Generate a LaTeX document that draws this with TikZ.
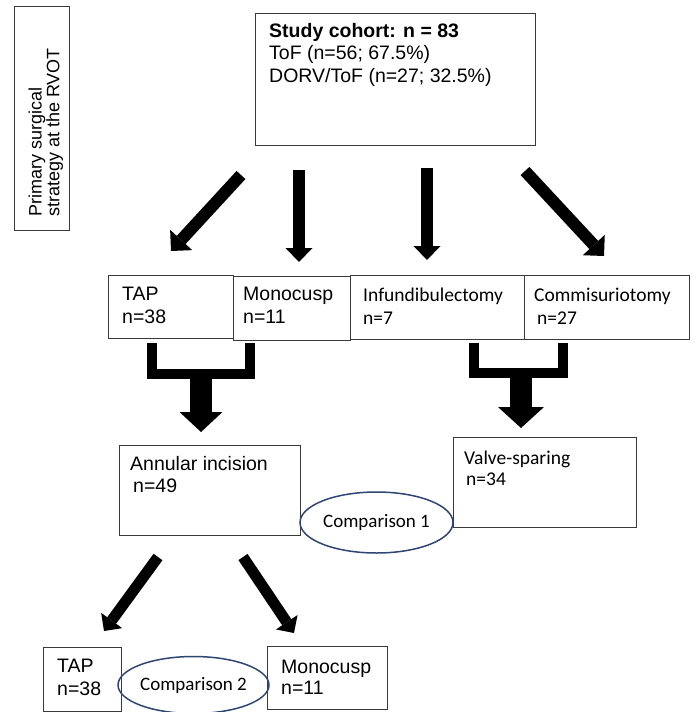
\documentclass[tikz,border=0pt]{standalone}
\usepackage{fontspec}
\setmainfont{Liberation Sans}
\newfontfamily\calfont{Carlito}
\usetikzlibrary{arrows.meta,shapes.geometric}
\definecolor{boxline}{HTML}{3A3A3A}
\definecolor{ellline}{HTML}{2E4672}
\tikzset{
  box/.style={draw=boxline, line width=1.3pt, rectangle, inner sep=0pt, anchor=north west},
  txt/.style={anchor=base west, align=left, inner sep=0pt, font=\fontsize{19.5}{23}\selectfont},
  ctxt/.style={txt, font=\calfont\fontsize{19.5}{23}\selectfont},
  cmp/.style={draw=ellline, line width=1.5pt, ellipse, inner sep=0pt, font=\calfont\fontsize{19}{22}\selectfont},
  blk/.style n args={3}{line width=#1, -{Triangle[width=#2, length=#3, line width=0pt]}},
  bracket/.style={line width=10pt, line join=miter},
}
\begin{document}
\begin{tikzpicture}[x=1pt, y=-1pt]
\fill[white] (0,0) rectangle (696,712);
\useasboundingbox (0,0) rectangle (696,712);

% boxes
\node[box, minimum width=55pt, minimum height=224pt] (strat) at (14,6) {};
\node[box, minimum width=280pt, minimum height=132pt] (cohort) at (255,13) {};
\node[box, minimum width=125pt, minimum height=63pt] (tap1) at (108,275) {};
\node[box, minimum width=117pt, minimum height=64pt] (mono1) at (233,276) {};
\node[box, minimum width=174pt, minimum height=64pt] (inf) at (350,275) {};
\node[box, minimum width=165pt, minimum height=64pt] (com) at (524,275) {};
\node[box, minimum width=181pt, minimum height=90pt] (ann) at (119,445) {};
\node[box, minimum width=183pt, minimum height=90pt] (valve) at (453,437) {};
\node[box, minimum width=78pt, minimum height=64pt] (tap2) at (43,647) {};
\node[box, minimum width=120pt, minimum height=63pt] (mono2) at (267,646) {};

% texts (anchor = baseline of the last line)
\node[txt, rotate=90, font=\fontsize{18}{17.6}\selectfont] (tstrat) at (59.3,217) {Primary surgical\\strategy at the RVOT};
\node[txt, font=\fontsize{19.5}{22.5}\selectfont] (tcohort) at (269,82) {\textbf{Study cohort: n = 83}\\ToF (n=56; 67.5\%)\\DORV/ToF (n=27; 32.5\%)};
\node[txt] (ttap1) at (122,323) {TAP\\n=38};
\node[txt] (tmono1) at (243,323.5) {Monocusp\\n=11};
\node[ctxt] (tinf) at (363,324) {Infundibulectomy\\n=7};
\node[ctxt] (tcom) at (534,324) {Commisuriotomy\\\hspace{3pt}n=27};
\node[txt, font=\fontsize{19.5}{22}\selectfont] (tann) at (130,492) {Annular incision\\\hspace{3pt}n=49};
\node[ctxt, font=\calfont\fontsize{19.5}{21}\selectfont] (tvalve) at (464,485) {Valve-sparing\\\hspace{2pt}n=34};
\node[txt] (ttap2) at (57,695) {TAP\\n=38};
\node[txt, font=\fontsize{19.5}{21.5}\selectfont] (tmono2) at (281,694.5) {Monocusp\\n=11};

% comparison ellipses
\node[cmp, minimum width=153pt, minimum height=61pt] (cmp1) at (376.5,522.5) {Comparison 1};
\node[cmp, minimum width=147pt, minimum height=57pt] (cmp2) at (193.5,685) {Comparison 2};

% top arrows
\coordinate (a1s) at (241,175); \coordinate (a1e) at (171,251);
\coordinate (a2s) at (299,170); \coordinate (a2e) at (299,262);
\coordinate (a3s) at (427,168); \coordinate (a3e) at (427,260);
\coordinate (a4s) at (525,171); \coordinate (a4e) at (604,256);
\draw[blk={12pt}{30pt}{15pt}] (a1s) -- (a1e);
\draw[blk={12pt}{27pt}{14pt}] (a2s) -- (a2e);
\draw[blk={12pt}{27pt}{14pt}] (a3s) -- (a3e);
\draw[blk={12pt}{30pt}{15pt}] (a4s) -- (a4e);

% brackets
\coordinate (bl1) at (151.5,343); \coordinate (bl2) at (250,343);
\coordinate (br1) at (473.5,343); \coordinate (br2) at (563,343);
\draw[bracket] (bl1) -- (151.5,373.5) -- (250,373.5) -- (bl2);
\draw[bracket] (br1) -- (473.5,373) -- (563,373) -- (br2);
\coordinate (sl) at (201,374); \coordinate (slE) at (201,432);
\coordinate (sr) at (521,374); \coordinate (srE) at (521,428);
\draw[blk={22pt}{43pt}{20pt}] (sl) -- (slE);
\draw[blk={22pt}{46pt}{21pt}] (sr) -- (srE);

% bottom arrows
\coordinate (a5s) at (158,557); \coordinate (a5e) at (104,631);
\coordinate (a6s) at (243,557); \coordinate (a6e) at (294,633);
\draw[blk={11pt}{26pt}{13pt}] (a5s) -- (a5e);
\draw[blk={11pt}{26pt}{13pt}] (a6s) -- (a6e);
\end{tikzpicture}
\end{document}
